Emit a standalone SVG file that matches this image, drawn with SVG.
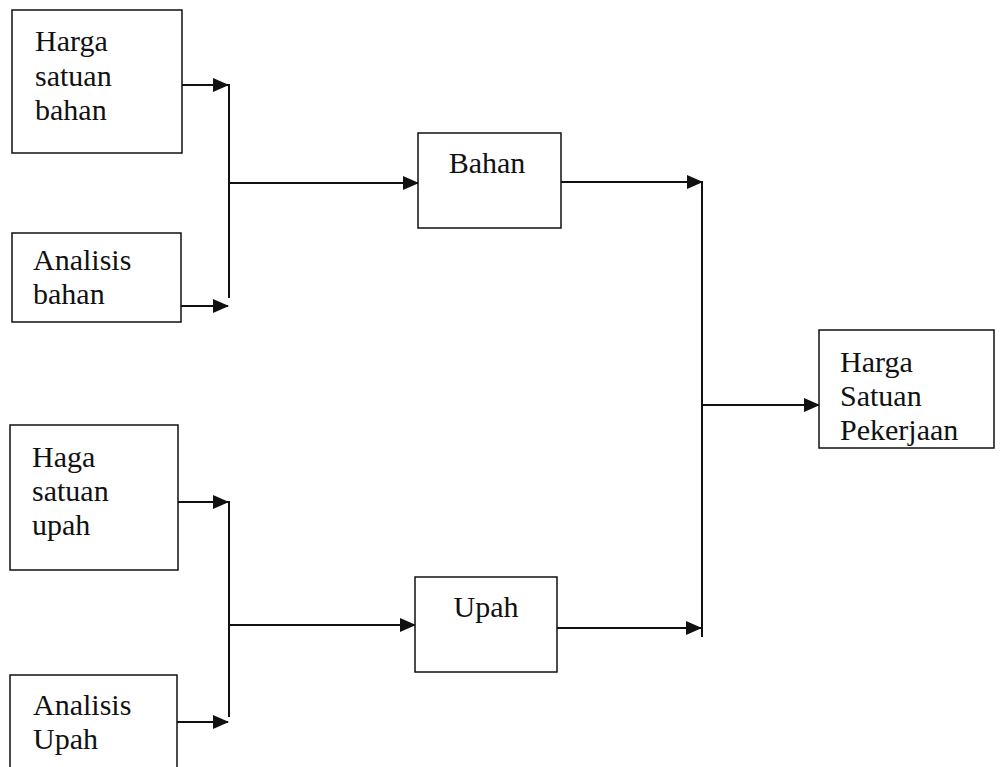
<svg xmlns="http://www.w3.org/2000/svg" width="1003" height="767" viewBox="0 0 1003 767">
<style>
.box{fill:#fff;stroke:#111;stroke-width:1.5}
.lbl{font-family:"Liberation Serif","Times New Roman",serif;font-size:30px;fill:#111}
.ln{fill:none;stroke:#111;stroke-width:2}
</style>
<defs>
<marker id="ah" markerWidth="16" markerHeight="14" refX="15" refY="7" orient="auto" markerUnits="userSpaceOnUse">
<path d="M0,0 L16,7 L0,14 Z" fill="#111"/>
</marker>
</defs>
<rect width="1003" height="767" fill="#fff"/>
<g id="connectors">
<path class="ln" d="M182,85 H228" marker-end="url(#ah)"/>
<path class="ln" d="M181,306 H228" marker-end="url(#ah)"/>
<path class="ln" d="M229,84 V298"/>
<path class="ln" d="M229,183 H418" marker-end="url(#ah)"/>
<path class="ln" d="M178,502 H228" marker-end="url(#ah)"/>
<path class="ln" d="M177,722 H228" marker-end="url(#ah)"/>
<path class="ln" d="M229,501 V717"/>
<path class="ln" d="M229,625 H415" marker-end="url(#ah)"/>
<path class="ln" d="M561,182 H702" marker-end="url(#ah)"/>
<path class="ln" d="M557,628 H701" marker-end="url(#ah)"/>
<path class="ln" d="M702,181 V637"/>
<path class="ln" d="M702,405 H819" marker-end="url(#ah)"/>
</g>
<g id="harga-satuan-bahan">
<rect class="box" x="12" y="10" width="170" height="143"/>
<text class="lbl" x="35" y="51">Harga</text>
<text class="lbl" x="35" y="86">satuan</text>
<text class="lbl" x="35" y="120">bahan</text>
</g>
<g id="analisis-bahan">
<rect class="box" x="12" y="233" width="169" height="89"/>
<text class="lbl" x="33" y="270">Analisis</text>
<text class="lbl" x="33" y="304">bahan</text>
</g>
<g id="haga-satuan-upah">
<rect class="box" x="10" y="425" width="168" height="145"/>
<text class="lbl" x="32" y="467">Haga</text>
<text class="lbl" x="32" y="501">satuan</text>
<text class="lbl" x="32" y="535">upah</text>
</g>
<g id="analisis-upah">
<rect class="box" x="10" y="675" width="167" height="100"/>
<text class="lbl" x="33" y="715">Analisis</text>
<text class="lbl" x="33" y="749">Upah</text>
</g>
<g id="bahan">
<rect class="box" x="418" y="133" width="143" height="95"/>
<text class="lbl" x="487" y="173" text-anchor="middle">Bahan</text>
</g>
<g id="upah">
<rect class="box" x="415" y="577" width="142" height="95"/>
<text class="lbl" x="486" y="617" text-anchor="middle">Upah</text>
</g>
<g id="harga-satuan-pekerjaan">
<rect class="box" x="819" y="330" width="175" height="118"/>
<text class="lbl" x="840" y="372">Harga</text>
<text class="lbl" x="840" y="406">Satuan</text>
<text class="lbl" x="840" y="440">Pekerjaan</text>
</g>
</svg>
